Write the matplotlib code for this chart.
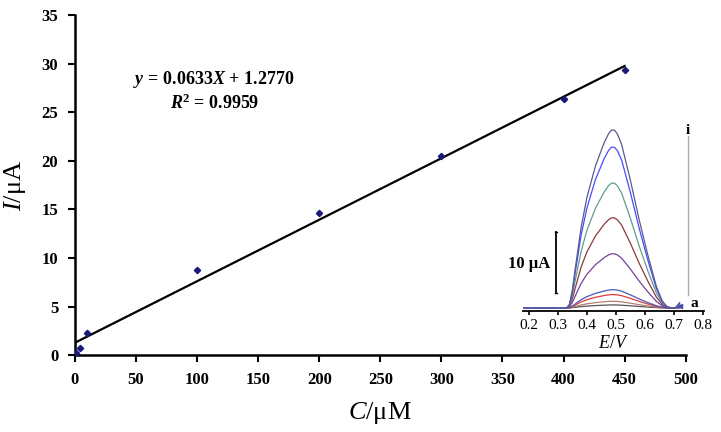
import numpy as np
import matplotlib
matplotlib.use('Agg')
import matplotlib.pyplot as plt

plt.rcParams['font.family'] = ['Liberation Serif', 'DejaVu Serif']
plt.rcParams['mathtext.fontset'] = 'custom'
plt.rcParams['mathtext.rm'] = 'Liberation Serif'
plt.rcParams['mathtext.it'] = 'Liberation Serif:italic'
plt.rcParams['mathtext.bf'] = 'Liberation Serif:bold'
plt.rcParams['mathtext.bfit'] = 'Liberation Serif:italic:bold'

# calibration data
conc = [0.5, 4, 10, 100, 200, 300, 400, 450]
current = [0.25, 0.75, 2.25, 8.75, 14.6, 20.5, 26.35, 29.3]
slope, intercept = 0.0633, 1.2770
fit_x = [0, 450]

pot = [0.18, 0.30, 0.33, 0.34, 0.35, 0.36, 0.38, 0.40, 0.43, 0.46, 0.475, 0.485,
       0.495, 0.505, 0.52, 0.55, 0.58, 0.61, 0.64, 0.66, 0.675, 0.69, 0.705, 0.72]
profile = [0.0, 0.0, 0.0, 0.02, 0.10, 0.22, 0.45, 0.62, 0.80, 0.93, 0.98, 1.0,
           1.0, 0.98, 0.92, 0.72, 0.50, 0.30, 0.12, 0.04, 0.01, 0.0, 0.0, 0.03]
peaks = [0.5, 1.1, 2.2, 3.0, 8.9, 14.8, 20.5, 26.4, 29.2]
colors = ['#555555', '#b08070', '#e03a3a', '#4a5ab8', '#7a3f9e',
          '#8a3a3a', '#5f9e8a', '#4a4aff', '#5a5a8e']

fig = plt.figure(figsize=(7.21, 4.32), dpi=100)
ax = fig.add_axes([0.104, 0.178, 0.847, 0.787])

ax.plot(conc, current, 'D', color='#1a1a7a', markersize=3.2, zorder=3)
fx = np.array(fit_x, dtype=float)
ax.plot(fx, slope * fx + intercept, color='black', lw=1.6)

ax.set_xlim(0, 500)
ax.set_ylim(0, 35)
ax.set_xticks(range(0, 501, 50))
ax.set_yticks(range(0, 36, 5))
for s in ['top', 'right']:
    ax.spines[s].set_visible(False)
for s in ['left', 'bottom']:
    ax.spines[s].set_linewidth(1.8)
ax.tick_params(direction='out', length=5, width=1.5, labelsize=12, pad=7)
for lab in ax.get_xticklabels() + ax.get_yticklabels():
    lab.set_fontweight('bold')
ax.set_xlabel(r'$\mathit{C}$/μM', fontsize=19, labelpad=9)
ax.set_ylabel(r'$\mathit{I}$/μA', fontsize=19, labelpad=10)

ax.text(0.228, 0.797, r'$\mathbfit{y}\mathbf{\,=\,0.0633}\mathbfit{X}\mathbf{\,+\,1.2770}$',
        transform=ax.transAxes, fontsize=13, ha='center')
ax.text(0.228, 0.724, r'$\mathbfit{R}^\mathbf{2}\mathbf{\,=\,0.9959}$',
        transform=ax.transAxes, fontsize=13, ha='center')

# inset
ins = fig.add_axes([0.725, 0.28, 0.251, 0.43])
ins.patch.set_alpha(0)
prof = np.array(profile)
for h, c in zip(peaks, colors):
    ins.plot(pot, prof * h + 0.2, color=c, lw=0.9)
ins.plot([0.72], [0.6], marker='<', color='#4a4ab0', markersize=3)
ins.set_xlim(0.179, 0.803)
ins.set_ylim(-0.3, 30.2)
ins.set_xticks([0.2, 0.3, 0.4, 0.5, 0.6, 0.7, 0.8])
ins.set_yticks([])
for s in ['top', 'right', 'left']:
    ins.spines[s].set_visible(False)
ins.spines['bottom'].set_linewidth(1.3)
ins.tick_params(direction='out', length=3, width=1.2, labelsize=11, pad=3)
ins.set_xlabel(r'$\mathit{E}$/$\mathit{V}$', fontsize=13, labelpad=2)

# 10 uA scale bar
ins.plot([0.293, 0.293], [2.6, 12.6], color='black', lw=1.3)
ins.plot([0.289, 0.297], [2.6, 2.6], color='black', lw=1.0)
ins.plot([0.289, 0.297], [12.6, 12.6], color='black', lw=1.0)
ins.text(0.275, 7.4, '10 μA', fontsize=12, fontweight='bold', ha='right', va='center')

# a -> i marker
ins.plot([0.748, 0.748], [2.3, 28.4], color='#aaaaaa', lw=1.0)
ins.text(0.748, 29.3, 'i', fontsize=11, fontweight='bold', ha='center', va='center')
ins.text(0.758, 1.0, 'a', fontsize=11, fontweight='bold', ha='left', va='center')

fig.savefig('out.png', dpi=100)
